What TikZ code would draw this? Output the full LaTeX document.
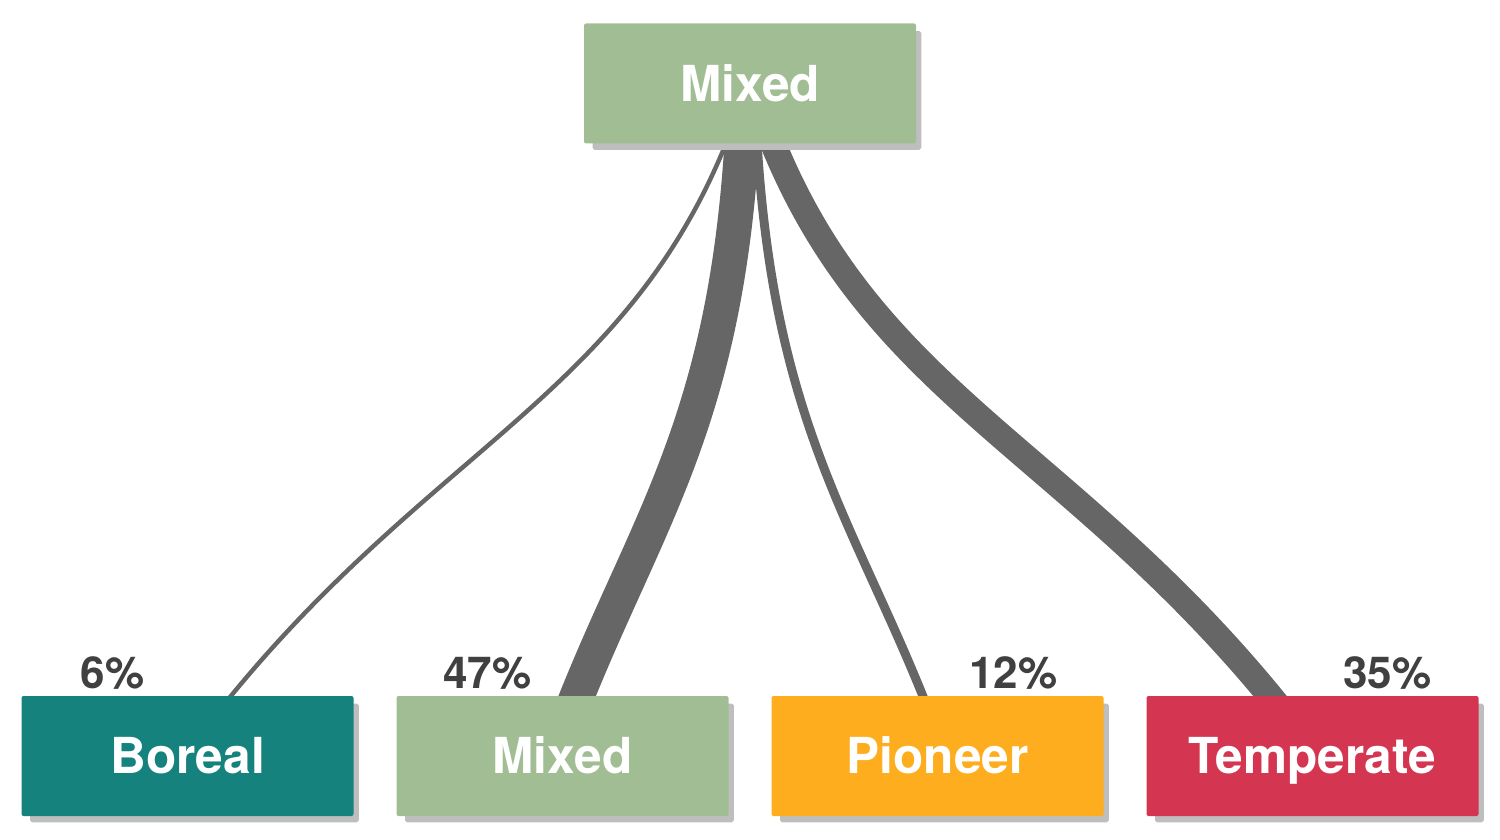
\documentclass[tikz,border=0pt]{standalone}
\usepackage{fontspec}
\setmainfont{TeX Gyre Heros}
\usetikzlibrary{calc,shadows,backgrounds}
\definecolor{boreal}{HTML}{15827E}
\definecolor{mixed}{HTML}{A1BD94}
\definecolor{pioneer}{HTML}{FDAD1D}
\definecolor{temperate}{HTML}{D43550}
\definecolor{shade}{HTML}{BEBEBE}
\definecolor{flowgray}{HTML}{666666}
\definecolor{pctgray}{HTML}{404040}
\begin{document}
\begin{tikzpicture}[x=0.5pt,y=-0.5pt,
        box/.style={rectangle,rounded corners=1pt,minimum width=166pt,
            minimum height=60pt,text=white,text height=17.8pt,text depth=0pt,
            font=\fontsize{24.8}{29}\selectfont\bfseries,
            drop shadow={shadow xshift=3.5pt,shadow yshift=-3.5pt,
                shadow scale=0.99,fill=shade,opacity=1}},
        pct/.style={anchor=base,inner sep=0pt,text=pctgray,
            font=\fontsize{22}{26}\selectfont\bfseries},
        flow/.style={draw=flowgray,line width=#1*0.37pt}]
    \useasboundingbox (0,0) rectangle (1500,840);

    \node[box,fill=mixed] (top) at (750,83.5) {Mixed};
    \node[box,fill=boreal] (boreal) at (187.5,756) {Boreal};
    \node[box,fill=mixed] (mixed) at (562.5,756) {Mixed};
    \node[box,fill=pioneer] (pioneer) at (937.5,756) {Pioneer};
    \node[box,fill=temperate] (temperate) at (1312.5,756) {Temperate};

    \begin{scope}[on background layer]
    \draw[flow=6] ($(top.south)+(-23,-3)$) .. controls +(-102,255) and +(207,-258) .. ($(boreal.north)+(34,12)$);
    \draw[flow=47] ($(top.south)+(-8,-3)$) .. controls +(-17,282) and +(74,-187) .. ($(mixed.north)+(10,12)$);
    \draw[flow=12] ($(top.south)+(7,-3)$) .. controls +(17,282) and +(-74,-187) .. ($(pioneer.north)+(-10,12)$);
    \draw[flow=35] ($(top.south)+(22,-3)$) .. controls +(103,255) and +(-208,-258) .. ($(temperate.north)+(-33,12)$);
    \end{scope}

    \node[pct] (pboreal) at ($(boreal.north)+(-75,-7)$) {6\%};
    \node[pct] (pmixed) at ($(mixed.north)+(-75,-7)$) {47\%};
    \node[pct] (ppioneer) at ($(pioneer.north)+(76,-7)$) {12\%};
    \node[pct] (ptemperate) at ($(temperate.north)+(75,-7)$) {35\%};
\end{tikzpicture}
\end{document}
